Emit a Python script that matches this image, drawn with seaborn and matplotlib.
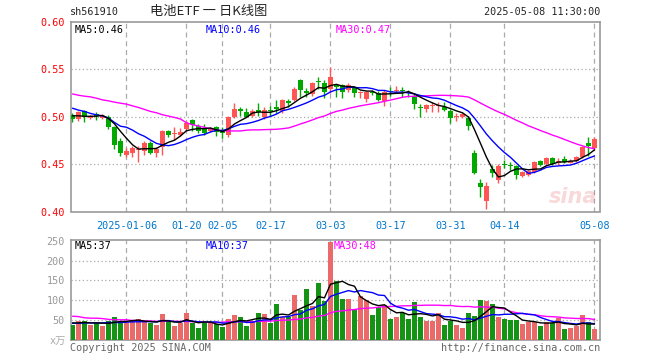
import numpy as np
import pandas as pd
import matplotlib
matplotlib.use("Agg")
import matplotlib.pyplot as plt
import seaborn as sns

# ---------------- data ----------------
dates = ["2024-12-23", "2024-12-24", "2024-12-25", "2024-12-26", "2024-12-27", "2024-12-30", "2024-12-31",
         "2025-01-02", "2025-01-03", "2025-01-06", "2025-01-07", "2025-01-08", "2025-01-09", "2025-01-10",
         "2025-01-13", "2025-01-14", "2025-01-15", "2025-01-16", "2025-01-17", "2025-01-20", "2025-01-21",
         "2025-01-22", "2025-01-23", "2025-01-24", "2025-01-27", "2025-02-05", "2025-02-06", "2025-02-07",
         "2025-02-10", "2025-02-11", "2025-02-12", "2025-02-13", "2025-02-14", "2025-02-17", "2025-02-18",
         "2025-02-19", "2025-02-20", "2025-02-21", "2025-02-24", "2025-02-25", "2025-02-26", "2025-02-27",
         "2025-02-28", "2025-03-03", "2025-03-04", "2025-03-05", "2025-03-06", "2025-03-07", "2025-03-10",
         "2025-03-11", "2025-03-12", "2025-03-13", "2025-03-14", "2025-03-17", "2025-03-18", "2025-03-19",
         "2025-03-20", "2025-03-21", "2025-03-24", "2025-03-25", "2025-03-26", "2025-03-27", "2025-03-28",
         "2025-03-31", "2025-04-01", "2025-04-02", "2025-04-03", "2025-04-07", "2025-04-08", "2025-04-09",
         "2025-04-10", "2025-04-11", "2025-04-14", "2025-04-15", "2025-04-16", "2025-04-17", "2025-04-18",
         "2025-04-21", "2025-04-22", "2025-04-23", "2025-04-24", "2025-04-25", "2025-04-28", "2025-04-29",
         "2025-04-30", "2025-05-06", "2025-05-07", "2025-05-08"]

opens = [0.5021, 0.4972, 0.5056, 0.4986, 0.5028, 0.4986, 0.4993, 0.4888, 0.4748, 0.4598,
         0.4619, 0.4650, 0.4643, 0.4720, 0.4622, 0.4685, 0.4846, 0.4822, 0.4811, 0.4874,
         0.4965, 0.4899, 0.4878, 0.4846, 0.4888, 0.4846, 0.4811, 0.4993, 0.5087, 0.5052,
         0.5010, 0.5073, 0.5002, 0.5072, 0.5107, 0.5058, 0.5170, 0.5177, 0.5388, 0.5275,
         0.5240, 0.5381, 0.5360, 0.5293, 0.5339, 0.5339, 0.5282, 0.5304, 0.5247, 0.5188,
         0.5265, 0.5247, 0.5170, 0.5275, 0.5275, 0.5275, 0.5265, 0.5219, 0.5107, 0.5086,
         0.5117, 0.5114, 0.5107, 0.5062, 0.4997, 0.4997, 0.4990, 0.4614, 0.4303, 0.4114,
         0.4452, 0.4328, 0.4500, 0.4493, 0.4483, 0.4372, 0.4383, 0.4417, 0.4534, 0.4500,
         0.4569, 0.4507, 0.4555, 0.4517, 0.4528, 0.4579, 0.4728, 0.4666]
highs = [0.5035, 0.5063, 0.5070, 0.5021, 0.5045, 0.5028, 0.5021, 0.4906, 0.4776, 0.4671,
         0.4696, 0.4696, 0.4741, 0.4748, 0.4678, 0.4864, 0.4864, 0.4895, 0.4881, 0.4958,
         0.4976, 0.4923, 0.4923, 0.4895, 0.4902, 0.4888, 0.5003, 0.5140, 0.5098, 0.5094,
         0.5077, 0.5140, 0.5100, 0.5118, 0.5177, 0.5188, 0.5188, 0.5311, 0.5398, 0.5304,
         0.5367, 0.5416, 0.5388, 0.5521, 0.5346, 0.5346, 0.5353, 0.5311, 0.5275, 0.5268,
         0.5282, 0.5275, 0.5282, 0.5311, 0.5325, 0.5318, 0.5282, 0.5240, 0.5131, 0.5131,
         0.5155, 0.5155, 0.5155, 0.5079, 0.5038, 0.5038, 0.5003, 0.4648, 0.4348, 0.4314,
         0.4493, 0.4500, 0.4545, 0.4521, 0.4493, 0.4431, 0.4441, 0.4534, 0.4545, 0.4579,
         0.4579, 0.4562, 0.4586, 0.4555, 0.4590, 0.4693, 0.4786, 0.4786]
lows = [0.4941, 0.4958, 0.4941, 0.4976, 0.4965, 0.4979, 0.4871, 0.4661, 0.4591, 0.4580,
        0.4573, 0.4521, 0.4598, 0.4608, 0.4573, 0.4598, 0.4790, 0.4759, 0.4797, 0.4846,
        0.4846, 0.4832, 0.4811, 0.4836, 0.4801, 0.4776, 0.4783, 0.4986, 0.5010, 0.4993,
        0.4993, 0.5010, 0.4977, 0.5012, 0.5037, 0.5037, 0.5100, 0.5163, 0.5205, 0.5212,
        0.5223, 0.5293, 0.5198, 0.5247, 0.5205, 0.5198, 0.5258, 0.5212, 0.5198, 0.5153,
        0.5226, 0.5163, 0.5118, 0.5223, 0.5247, 0.5212, 0.5212, 0.5082, 0.4993, 0.5052,
        0.5052, 0.5052, 0.5062, 0.4931, 0.4959, 0.4983, 0.4855, 0.4397, 0.4148, 0.4028,
        0.4362, 0.4303, 0.4459, 0.4441, 0.4348, 0.4362, 0.4372, 0.4403, 0.4476, 0.4493,
        0.4493, 0.4493, 0.4507, 0.4510, 0.4521, 0.4569, 0.4586, 0.4648]
closes = [0.4972, 0.5045, 0.4993, 0.5010, 0.5010, 0.5010, 0.4888, 0.4706, 0.4615, 0.4643,
          0.4671, 0.4661, 0.4720, 0.4619, 0.4657, 0.4846, 0.4811, 0.4829, 0.4843, 0.4934,
          0.4916, 0.4853, 0.4825, 0.4878, 0.4836, 0.4825, 0.4993, 0.5087, 0.5056, 0.5000,
          0.5063, 0.5045, 0.5072, 0.5058, 0.5082, 0.5177, 0.5142, 0.5293, 0.5282, 0.5247,
          0.5356, 0.5363, 0.5258, 0.5423, 0.5311, 0.5258, 0.5339, 0.5247, 0.5254, 0.5258,
          0.5254, 0.5177, 0.5258, 0.5265, 0.5282, 0.5268, 0.5254, 0.5135, 0.5093, 0.5124,
          0.5124, 0.5124, 0.5072, 0.4986, 0.5003, 0.5024, 0.4900, 0.4407, 0.4262, 0.4269,
          0.4407, 0.4476, 0.4486, 0.4483, 0.4390, 0.4417, 0.4424, 0.4521, 0.4493, 0.4562,
          0.4503, 0.4534, 0.4521, 0.4538, 0.4579, 0.4683, 0.4690, 0.4762]
volumes = [37, 48, 46, 37, 42, 34, 46, 58, 48, 42,
           46, 51, 46, 42, 36, 64, 46, 33, 41, 67,
           42, 29, 42, 42, 40, 31, 51, 61, 58, 34,
           48, 68, 64, 41, 91, 57, 57, 112, 74, 127,
           86, 144, 97, 246, 147, 103, 103, 76, 111, 99,
           61, 82, 87, 51, 57, 67, 51, 95, 57, 48,
           47, 68, 37, 47, 37, 28, 68, 59, 101, 97,
           91, 57, 53, 49, 49, 38, 45, 45, 34, 45,
           42, 55, 26, 28, 34, 63, 45, 26]

# moving-average values at the start of the window (their history lies before the chart)
ma5_head = [0.5010, 0.5010, 0.5005, 0.5005]
ma10_head = [0.5090, 0.5070, 0.5056, 0.5035, 0.5020, 0.5010, 0.4986, 0.4940, 0.4900]
ma30_head = [0.5241, 0.5227, 0.5217, 0.5210, 0.5196, 0.5178, 0.5168, 0.5154, 0.5143, 0.5133,
             0.5115, 0.5098, 0.5077, 0.5056, 0.5042, 0.5021, 0.5007, 0.4993, 0.4976, 0.4937,
             0.4916, 0.4902, 0.4888, 0.4874, 0.4860, 0.4853, 0.4850, 0.4850, 0.4850]
vma5_head = [42, 42, 43, 42]
vma10_head = [41, 41, 42, 42, 42, 42, 43, 43, 43]
vma30_head = [59, 58, 55, 54, 54, 53, 51, 50, 50, 50, 48, 48, 47, 47, 46, 46, 46, 46, 46, 46,
              45, 45, 44, 43, 43, 44, 45, 45, 45]

# legend texts as printed on the chart
price_legend = ["MA5:0.46", "MA10:0.46", "MA30:0.47"]
volume_legend = ["MA5:37", "MA10:37", "MA30:48"]

tick_dates = ["2025-01-06", "2025-01-20", "2025-02-05", "2025-02-17", "2025-03-03",
              "2025-03-17", "2025-03-31", "2025-04-14", "2025-05-08"]
tick_labels = ["2025-01-06", "01-20", "02-05", "02-17", "03-03", "03-17", "03-31", "04-14", "05-08"]
price_ticks = [0.40, 0.45, 0.50, 0.55, 0.60]
volume_ticks = [50, 100, 150, 200, 250]

# ---------------- derived frame ----------------
df = pd.DataFrame({"date": dates, "open": opens, "high": highs, "low": lows,
                   "close": closes, "volume": volumes})
df["i"] = np.arange(len(df))
df["up"] = np.where(df["close"] >= df["open"], "up", "down")


def moving(series, n, head):
    m = series.rolling(n).mean().to_numpy()
    m[:len(head)] = head
    return m


df["ma5"] = moving(df["close"], 5, ma5_head)
df["ma10"] = moving(df["close"], 10, ma10_head)
df["ma30"] = moving(df["close"], 30, ma30_head)
df["vma5"] = moving(df["volume"], 5, vma5_head)
df["vma10"] = moving(df["volume"], 10, vma10_head)
df["vma30"] = moving(df["volume"], 30, vma30_head)

RED = "#FF5555"
GREEN = "#00A800"
BLUE_TXT = "#0077CC"
GRID = "#AAAAAA"
BOX = "#999999"
MONO = "DejaVu Sans Mono"
MA_COLORS = ["#000000", "#0000FF", "#FF00FF"]

sns.set_style("white")
plt.rcParams["font.family"] = ["DejaVu Sans Mono", "Noto Sans CJK SC"]

fig = plt.figure(figsize=(6.6, 3.6), dpi=100)
W, H = 660.0, 360.0


def axes_px(x0, y0, x1, y1):
    return fig.add_axes([x0 / W, 1 - y1 / H, (x1 - x0) / W, (y1 - y0) / H])


axp = axes_px(70.5, 22, 600, 211.5)
axv = axes_px(70.5, 240, 600, 339.5)

xmin, xmax = -0.33, 87.92
tick_pos = [dates.index(d) for d in tick_dates]
legend_x = [4.5, 135, 265]

# ---------------- price panel ----------------
colors = [RED if u == "up" else GREEN for u in df["up"]]
axp.vlines(df["i"], df["low"], df["high"], colors=colors, linewidth=1.0, zorder=3)
body_lo = np.minimum(df["open"], df["close"])
body_h = np.maximum(np.abs(df["close"] - df["open"]), 0.0011)
axp.bar(df["i"], body_h, bottom=body_lo, width=0.82, color=colors, linewidth=0, zorder=4)

sns.lineplot(data=df, x="i", y="ma30", ax=axp, color=MA_COLORS[2], linewidth=1.0, zorder=5)
sns.lineplot(data=df, x="i", y="ma10", ax=axp, color=MA_COLORS[1], linewidth=1.0, zorder=5)
sns.lineplot(data=df, x="i", y="ma5", ax=axp, color=MA_COLORS[0], linewidth=1.0, zorder=6)

axp.set_xlim(xmin, xmax)
axp.set_ylim(0.40, 0.60)
axp.set_yticks(price_ticks)
axp.set_yticklabels([f"{v:.2f}" for v in price_ticks], color="#FF0000", fontsize=7.3, family=MONO)
axp.set_xticks(tick_pos)
axp.set_xticklabels(tick_labels, color=BLUE_TXT, fontsize=7.3, family=MONO)
axp.tick_params(axis="x", direction="in", length=3, color=BOX, pad=7)
axp.tick_params(axis="y", length=0, pad=4)
axp.set_xlabel("")
axp.set_ylabel("")
for v in [0.45, 0.50, 0.55]:
    axp.axhline(v, color=GRID, linestyle=(0, (1, 2)), linewidth=0.9, zorder=1)
for p in tick_pos:
    axp.axvline(p, color=GRID, linestyle=(0, (4, 3)), linewidth=0.9, zorder=1)
for s in axp.spines.values():
    s.set_color(BOX)
    s.set_linewidth(1.2)

for txt, xo, c in zip(price_legend, legend_x, MA_COLORS):
    axp.text(xo / 529.5, 0.985, txt, transform=axp.transAxes, ha="left", va="top",
             fontsize=7.3, color=c, family=MONO, zorder=10)
axp.text(0.995, 0.075, "sina", transform=axp.transAxes, ha="right", va="center",
         fontsize=15, color="#E05050", alpha=0.22, style="italic", fontweight="bold",
         family="DejaVu Sans", zorder=2)

# ---------------- volume panel ----------------
sns.barplot(data=df, x="i", y="volume", hue="up", palette={"up": RED, "down": GREEN},
            dodge=False, width=0.82, linewidth=0, legend=False, ax=axv, zorder=3)
sns.lineplot(data=df, x="i", y="vma30", ax=axv, color=MA_COLORS[2], linewidth=1.0, zorder=5)
sns.lineplot(data=df, x="i", y="vma10", ax=axv, color=MA_COLORS[1], linewidth=1.0, zorder=5)
sns.lineplot(data=df, x="i", y="vma5", ax=axv, color=MA_COLORS[0], linewidth=1.0, zorder=6)
axv.set_xlim(xmin, xmax)
axv.set_ylim(0, 252)
axv.set_yticks(volume_ticks)
axv.set_yticklabels([str(v) for v in volume_ticks], color="#999999", fontsize=7.3, family=MONO)
axv.set_xticks([])
axv.tick_params(axis="y", length=0, pad=4)
axv.set_xlabel("")
axv.set_ylabel("")
for v in [50, 100, 150, 200]:
    axv.axhline(v, color=GRID, linestyle=(0, (1, 2)), linewidth=0.9, zorder=1)
for p in tick_pos:
    axv.axvline(p, color=GRID, linestyle=(0, (4, 3)), linewidth=0.9, zorder=1)
for s in axv.spines.values():
    s.set_color(BOX)
    s.set_linewidth(1.2)
for txt, xo, c in zip(volume_legend, [4.5, 135, 263], MA_COLORS):
    axv.text(xo / 529.5, 0.985, txt, transform=axv.transAxes, ha="left", va="top",
             fontsize=7.3, color=c, family=MONO, zorder=10)

# ---------------- header / footer ----------------
fig.text(70 / W, 1 - 12 / H, "sh561910", ha="left", va="center", fontsize=7.3, family=MONO)
fig.text(150 / W, 1 - 12 / H, "电池ETF 一 日K线图", ha="left", va="center", fontsize=9.5,
         family=["Noto Sans CJK SC", "DejaVu Sans"])
fig.text(600 / W, 1 - 12 / H, "2025-05-08 11:30:00", ha="right", va="center", fontsize=7.3,
         family=MONO)
fig.text(66 / W, 1 - 341 / H, "x万", ha="right", va="center", fontsize=7.3, color="#AAAAAA",
         family=["DejaVu Sans Mono", "Noto Sans CJK SC"])
fig.text(70 / W, 1 - 348 / H, "Copyright 2025 SINA.COM", ha="left", va="center", fontsize=7.3,
         color="#666666", family=MONO)
fig.text(600 / W, 1 - 348 / H, "http://finance.sina.com.cn", ha="right", va="center",
         fontsize=7.3, color="#666666", family=MONO)

fig.savefig("out.png", dpi=100)
